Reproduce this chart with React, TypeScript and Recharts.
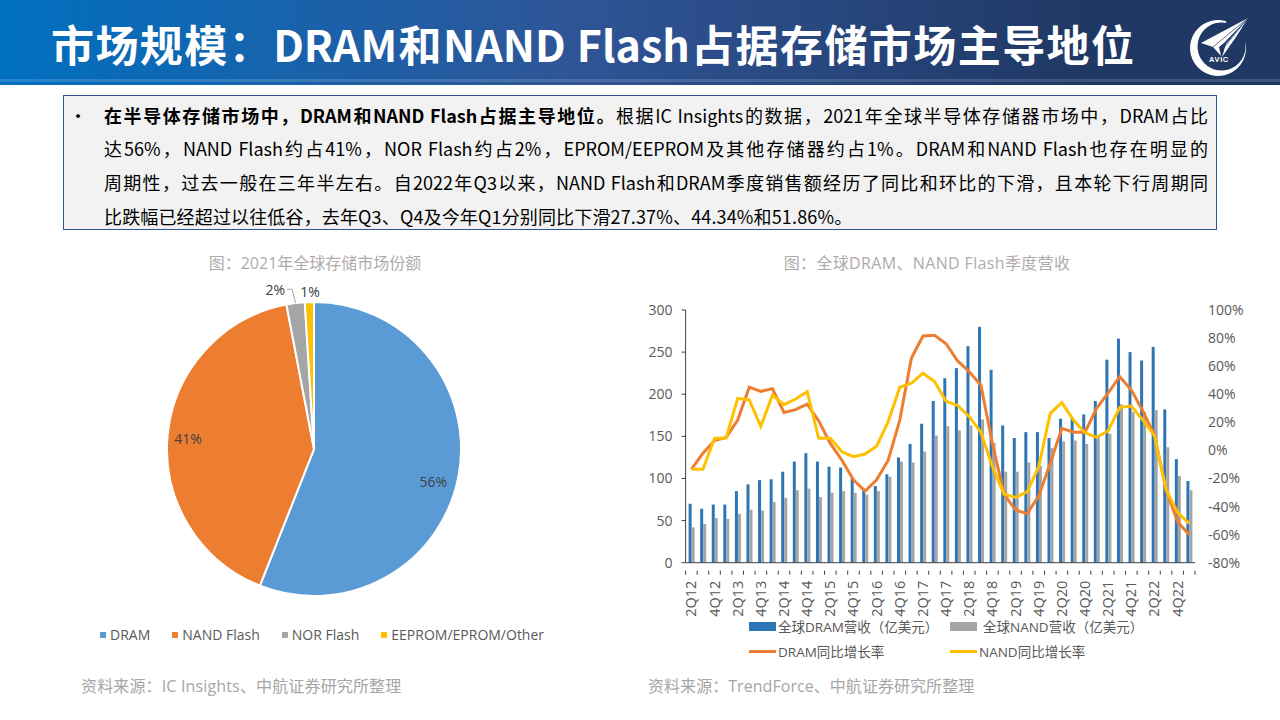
import { Bar, Cell, ComposedChart, Legend, Line, Pie, PieChart, XAxis, YAxis } from "recharts";

const FONT = '"Open Sans", "Noto Sans CJK SC", sans-serif';

const shareNames = ["DRAM", "NAND Flash", "NOR Flash", "EEPROM/EPROM/Other"];
const shareValues = [56, 41, 2, 1];
const shareColors = ["#5B9BD5", "#ED7D31", "#A5A5A5", "#FFC000"];

const quarters = [
  "2Q12", "3Q12", "4Q12",
  "1Q13", "2Q13", "3Q13", "4Q13",
  "1Q14", "2Q14", "3Q14", "4Q14",
  "1Q15", "2Q15", "3Q15", "4Q15",
  "1Q16", "2Q16", "3Q16", "4Q16",
  "1Q17", "2Q17", "3Q17", "4Q17",
  "1Q18", "2Q18", "3Q18", "4Q18",
  "1Q19", "2Q19", "3Q19", "4Q19",
  "1Q20", "2Q20", "3Q20", "4Q20",
  "1Q21", "2Q21", "3Q21", "4Q21",
  "1Q22", "2Q22", "3Q22", "4Q22",
  "1Q23",
];
const dramRevenue = [
  70, 64, 69, 69, 85, 93, 98, 99, 108, 120, 130, 120, 114, 113, 100, 88, 91, 105, 125, 141, 165, 192,
  219, 231, 257, 280, 229, 163, 148, 155, 155, 148, 171, 172, 176, 192, 241, 266, 250, 240, 256, 182, 123, 97,
];
const nandRevenue = [
  42, 46, 53, 52, 58, 63, 62, 72, 77, 86, 88, 78, 83, 85, 83, 81, 85, 102, 120, 119, 132, 151,
  162, 157, 163, 170, 142, 108, 108, 119, 115, 136, 144, 145, 141, 150, 153, 188, 179, 179, 181, 137, 103, 86,
];
const dramGrowth = [
  -13.5, -2, 7, 9.3, 21.6, 45, 42, 44, 27, 29, 33, 21, 5, -7, -21, -29, -21, -7, 21.6, 65.6, 81.5, 82,
  76, 63.7, 56, 46.6, 5, -31, -42.5, -45, -32.5, -9, 15.7, 13, 13, 30, 41, 52.5, 43, 28, 11, -28, -51, -60,
];
const nandGrowth = [
  -13.5, -13.5, 8.6, 8.8, 37, 36, 17, 39.4, 32.6, 36.6, 41.8, 8.6, 8.6, -1, -4.5, -2.6, 3, 20.5, 45, 47.8, 55, 49,
  35, 32, 24, 13, -11.6, -31, -33.5, -29.6, -11.6, 26.4, 34, 21.6, 12.6, 9.3, 14, 30.7, 31.6, 21.6, 10.5, -28, -44.4, -52,
];
const revenueTicks = [0, 50, 100, 150, 200, 250, 300];
const growthTicks = [-80, -60, -40, -20, 0, 20, 40, 60, 80, 100];

const shareData = shareNames.map((name, i) => ({ name, value: shareValues[i] }));
const quarterData = quarters.map((quarter, i) => ({
  quarter,
  dram: dramRevenue[i],
  nand: nandRevenue[i],
  dramYoy: dramGrowth[i],
  nandYoy: nandGrowth[i],
}));

const PLOT_WIDTH = 509.4;
const BAND = PLOT_WIDTH / quarters.length;

function QuarterTick({ x, y, index, payload }: any) {
  return (
    <g>
      <line x1={x - BAND / 2} x2={x - BAND / 2} y1={y} y2={y + 4} stroke="#404040" />
      {index === quarters.length - 1 && <line x1={x + BAND / 2} x2={x + BAND / 2} y1={y} y2={y + 4} stroke="#404040" />}
      {index % 2 === 0 && (
        <text
          x={x - 0.5}
          y={y + 10}
          transform={`rotate(-90 ${x - 0.5} ${y + 10})`}
          textAnchor="end"
          dominantBaseline="central"
          fontSize={14.5}
          fontFamily={FONT}
          fill="#595959"
        >
          {payload.value}
        </text>
      )}
    </g>
  );
}

function ShareLabel({ cx, cy, midAngle, outerRadius, index, value }: any) {
  const rad = (midAngle * Math.PI) / 180;
  const ux = Math.cos(rad);
  const uy = -Math.sin(rad);
  // the big slices sit inside, the thin ones outside the rim
  const r = index < 2 ? outerRadius * 0.84 : outerRadius + 11;
  const nudge = [[-2, 9], [-3, 1], [-19, -3], [1, 0]][index];
  const lx = cx + ux * r + nudge[0];
  const ly = cy + uy * r + nudge[1];
  return (
    <g>
      {index === 2 && (
        <polyline
          points={`${lx + 12},${ly} ${lx + 17},${ly} ${cx + ux * outerRadius},${cy + uy * outerRadius}`}
          fill="none"
          stroke="#A6A6A6"
        />
      )}
      <text x={lx} y={ly} textAnchor="middle" dominantBaseline="central" fontSize={14} fontFamily={FONT} fill="#404040">
        {value}%
      </text>
    </g>
  );
}

function ShareLegend() {
  return (
    <div style={{ position: "absolute", left: 0, top: 0, display: "flex", fontFamily: FONT, fontSize: 14, color: "#595959", whiteSpace: "nowrap" }}>
      {shareNames.map((name, i) => (
        <div key={name} style={{ display: "flex", alignItems: "center", marginRight: 22 }}>
          <span style={{ width: 6, height: 6, background: shareColors[i], marginRight: 4 }} />
          {name}
        </div>
      ))}
    </div>
  );
}

function Swatch({ color, thin }: { color: string; thin?: boolean }) {
  return <span style={{ width: 27, height: thin ? 3 : 9, background: color, display: "inline-block" }} />;
}

function RevenueLegend() {
  const item = (left: number, top: number, color: string, label: string, thin?: boolean, gap = 2) => (
    <div style={{ position: "absolute", left, top, display: "flex", alignItems: "center", height: 20, whiteSpace: "nowrap" }}>
      <Swatch color={color} thin={thin} />
      <span style={{ marginLeft: gap }}>{label}</span>
    </div>
  );
  return (
    <div style={{ position: "absolute", left: 0, top: 0, fontFamily: FONT, fontSize: 13.5, color: "#595959" }}>
      {item(0, 0, "#2E75B6", "全球DRAM营收（亿美元）")}
      {item(201, 0, "#A5A5A5", "全球NAND营收（亿美元）", false, 6)}
      {item(0, 25, "#ED7D31", "DRAM同比增长率", true)}
      {item(201, 25, "#FFC000", "NAND同比增长率", true)}
    </div>
  );
}

function Logo() {
  return (
    <svg width={70} height={70} viewBox="0 0 70 70" style={{ position: "absolute", left: 1185, top: 12 }}>
      <path
        fillRule="evenodd"
        fill="#fff"
        d="M33 8a28 28 0 1 0 .1 0Z M36.5 10.5a24 24 0 1 0 .1 0Z"
      />
      <path fill="#1F3864" d="M40 4L64 4L64 32L44 26Z" />
      <path fill="#fff" d="M63 6L16 31L28 35L36 44L34 35L39 31Z" />
      <path fill="#fff" d="M63 6L41 32L37 45L51 25Z" />
      <path fill="none" stroke="#1F3864" strokeWidth={0.7} d="M63 6L28 35M63 6L37 38" />
      <text x={34} y={50} textAnchor="middle" fontSize={7.5} fontWeight={700} fontFamily="Liberation Sans" fill="#fff" letterSpacing={0.6}>
        AVIC
      </text>
    </svg>
  );
}

const bodyLine = {
  position: "absolute",
  left: 40,
  width: 1104,
  height: 34,
  lineHeight: "34px",
  textAlign: "justify",
  textAlignLast: "justify",
  whiteSpace: "nowrap",
} as const;

export default function App() {
  return (
    <div style={{ position: "fixed", left: 0, top: 0, width: 1280, height: 720, background: "#fff", overflow: "hidden", fontFamily: FONT }}>
      <div style={{ position: "absolute", left: 0, top: 0, width: 1280, height: 85, background: "linear-gradient(90deg, #0070C0 0%, #2F5597 45%, #1F3864 85%, #1F3864 100%)" }}>
        <div style={{ position: "absolute", left: 0, top: 79, width: 1280, height: 3, background: "rgba(255,255,255,0.14)" }} />
        <div style={{ position: "absolute", left: 51, top: 13, width: 1083, textAlignLast: "justify", whiteSpace: "nowrap", fontFamily: '"Noto Sans CJK SC", sans-serif', fontSize: 43, lineHeight: "60px", fontWeight: 700, color: "#fff" }}>
          市场规模：DRAM和NAND Flash占据存储市场主导地位
        </div>
      </div>
      <Logo />

      <div style={{ position: "absolute", left: 63, top: 95, width: 1154, height: 135, boxSizing: "border-box", background: "#F2F2F2", border: "1.5px solid #2F5597", fontSize: 18, color: "#000", fontFamily: '"Noto Sans CJK SC", sans-serif' }}>
        <div style={{ position: "absolute", left: 5, top: 2, lineHeight: "34px" }}>•</div>
        <div style={{ ...bodyLine, top: 2 }}>
          <b>在半导体存储市场中，DRAM和NAND Flash占据主导地位。</b>根据IC Insights的数据，2021年全球半导体存储器市场中，DRAM占比
        </div>
        <div style={{ ...bodyLine, top: 35 }}>
          达56%，NAND Flash约占41%，NOR Flash约占2%，EPROM/EEPROM及其他存储器约占1%。DRAM和NAND Flash也存在明显的
        </div>
        <div style={{ ...bodyLine, top: 69 }}>
          周期性，过去一般在三年半左右。自2022年Q3以来，NAND Flash和DRAM季度销售额经历了同比和环比的下滑，且本轮下行周期同
        </div>
        <div style={{ ...bodyLine, top: 103, width: "auto", textAlignLast: "left", letterSpacing: 0.15 }}>
          比跌幅已经超过以往低谷，去年Q3、Q4及今年Q1分别同比下滑27.37%、44.34%和51.86%。
        </div>
      </div>

      <div style={{ position: "absolute", left: 115, width: 400, top: 252, textAlign: "center", fontSize: 16, lineHeight: "22px", color: "#AFABAB" }}>
        图：2021年全球存储市场份额
      </div>
      <div style={{ position: "absolute", left: 627, width: 600, top: 252, textAlign: "center", fontSize: 16, lineHeight: "22px", letterSpacing: 0.35, color: "#AFABAB" }}>
        图：全球DRAM、NAND Flash季度营收
      </div>

      <div style={{ position: "absolute", left: 60, top: 270 }}>
        <PieChart width={520} height={380}>
          <Pie
            data={shareData}
            dataKey="value"
            nameKey="name"
            cx={249}
            cy={174}
            outerRadius={147}
            startAngle={90}
            endAngle={-270}
            stroke="#fff"
            strokeWidth={2}
            label={ShareLabel}
            labelLine={false}
            isAnimationActive={false}
          >
            {shareData.map((d, i) => (
              <Cell key={d.name} fill={shareColors[i]} />
            ))}
          </Pie>
          <Legend content={ShareLegend} wrapperStyle={{ position: "absolute", left: 40, top: 355, width: 480, height: 0 }} />
        </PieChart>
      </div>

      <div style={{ position: "absolute", left: 640, top: 290 }}>
        <ComposedChart
          width={640}
          height={380}
          data={quarterData}
          margin={{ top: 20, right: 45, left: 5.6, bottom: 67.3 }}
          barSize={3}
          barGap={0}
        >
          <XAxis dataKey="quarter" interval={0} height={40} tick={QuarterTick} tickLine={false} axisLine={{ stroke: "#404040" }} />
          <YAxis
            yAxisId="revenue"
            domain={[0, 300]}
            ticks={revenueTicks}
            width={40}
            tickSize={4}
            tickMargin={9}
            tick={{ fontSize: 14, fontFamily: FONT, fill: "#595959" }}
            axisLine={{ stroke: "#404040" }}
            tickLine={{ stroke: "#404040" }}
          />
          <YAxis
            yAxisId="growth"
            orientation="right"
            domain={[-80, 100]}
            ticks={growthTicks}
            width={40}
            tickFormatter={(v) => `${v}%`}
            tickSize={0}
            tickMargin={13}
            tick={{ fontSize: 14, fontFamily: FONT, fill: "#595959" }}
            axisLine={false}
          />
          <Bar yAxisId="revenue" dataKey="dram" fill="#2E75B6" isAnimationActive={false} />
          <Bar yAxisId="revenue" dataKey="nand" fill="#A5A5A5" isAnimationActive={false} />
          <Line yAxisId="growth" dataKey="dramYoy" stroke="#ED7D31" strokeWidth={3} dot={false} isAnimationActive={false} />
          <Line yAxisId="growth" dataKey="nandYoy" stroke="#FFC000" strokeWidth={3} dot={false} isAnimationActive={false} />
          <Legend content={RevenueLegend} wrapperStyle={{ position: "absolute", left: 109, top: 326, width: 480, height: 0 }} />
        </ComposedChart>
      </div>

      <div style={{ position: "absolute", left: 81, top: 674, fontSize: 16, lineHeight: "24px", letterSpacing: 0.15, color: "#A6A6A6" }}>资料来源：IC Insights、中航证券研究所整理</div>
      <div style={{ position: "absolute", left: 648, top: 674, fontSize: 16, lineHeight: "24px", letterSpacing: 0.05, color: "#A6A6A6" }}>资料来源：TrendForce、中航证券研究所整理</div>
    </div>
  );
}
